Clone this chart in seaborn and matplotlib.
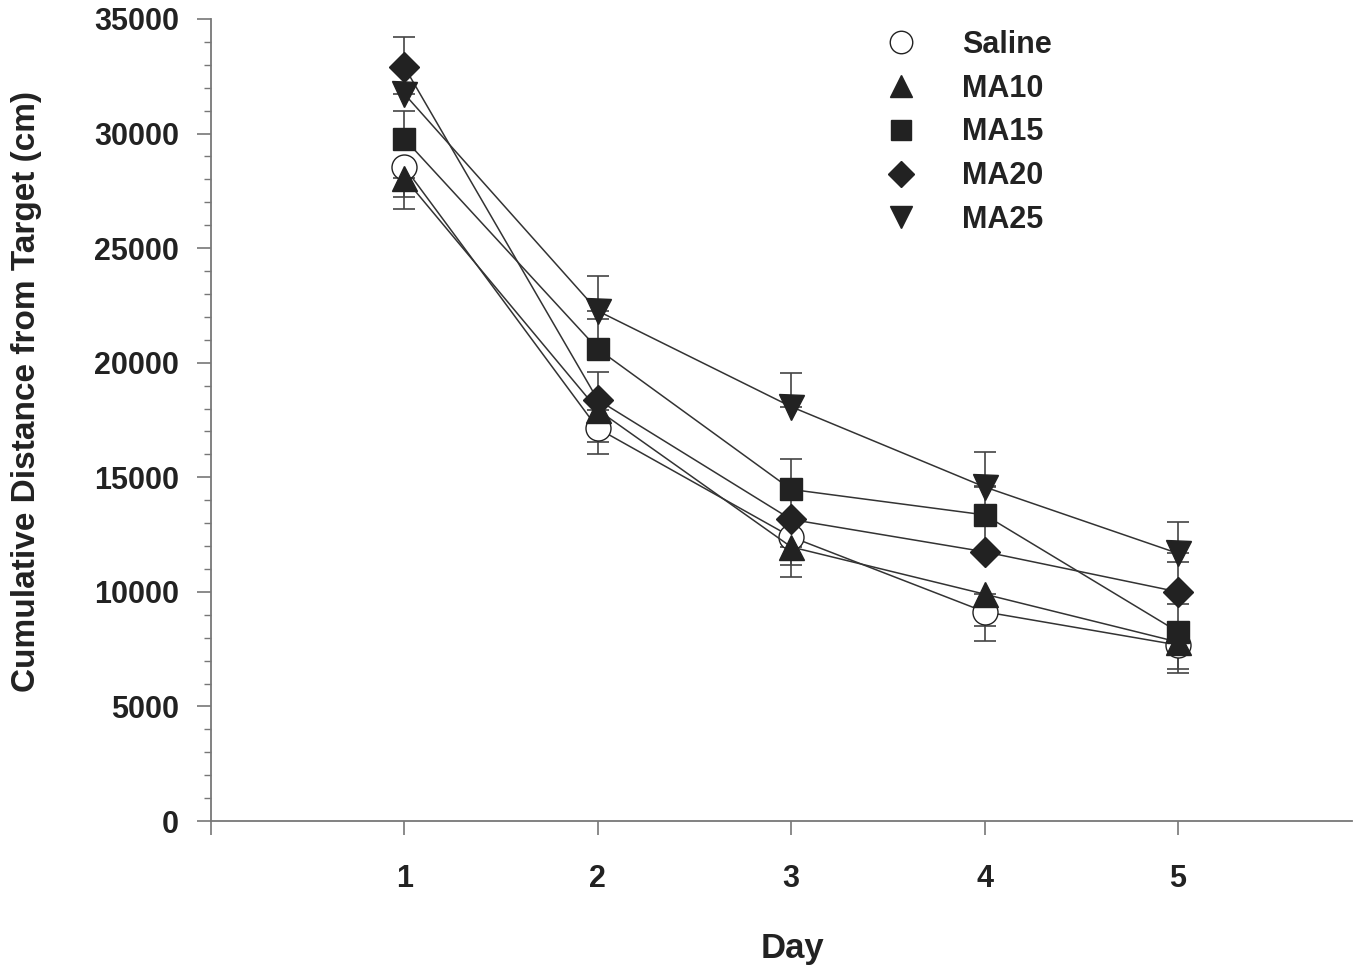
import matplotlib
matplotlib.use("Agg")
import matplotlib.pyplot as plt
import seaborn as sns
from matplotlib.lines import Line2D
from matplotlib.ticker import MultipleLocator

# --------------------------
# data
# --------------------------
days = [1, 2, 3, 4, 5]
groups = ["Saline", "MA10", "MA15", "MA20", "MA25"]

saline = [28540, 17130, 12400, 9130, 7680]
ma10 = [28060, 17940, 11960, 9900, 7810]
ma15 = [29770, 20600, 14470, 13360, 8260]
ma20 = [32910, 18380, 13160, 11750, 10000]
ma25 = [31730, 22260, 18080, 14580, 11680]

# one-sided SEM bars: Saline/MA10 point down, the others up
saline_sem = [1290, 1120, 1230, 1280, 1240]
ma10_sem = [1370, 1390, 1330, 1380, 1190]
ma15_sem = [1200, 1300, 1310, 1250, 1200]
ma20_sem = [1320, 1230, 1250, 1300, 1310]
ma25_sem = [1300, 1530, 1480, 1530, 1380]

yticks = [0, 5000, 10000, 15000, 20000, 25000, 30000, 35000]
xticks = [0, 1, 2, 3, 4, 5]
xticklabels = ["", "1", "2", "3", "4", "5"]

# --------------------------
# styling
# --------------------------
sns.set_theme(style="ticks")
plt.rcParams["font.family"] = ["Liberation Sans", "DejaVu Sans"]
plt.rcParams["font.weight"] = "bold"
plt.rcParams["axes.labelweight"] = "bold"

ink = "#222222"
axis_col = "#777777"

series = {
    "Saline": (saline, saline_sem, "o", 18, "white", "down"),
    "MA10": (ma10, ma10_sem, "^", 18, ink, "down"),
    "MA15": (ma15, ma15_sem, "s", 16.5, ink, "up"),
    "MA20": (ma20, ma20_sem, "D", 14.8, ink, "up"),
    "MA25": (ma25, ma25_sem, "v", 18, ink, "up"),
}

fig = plt.figure(figsize=(13.6, 9.72), dpi=100)
ax = fig.add_axes([211 / 1360, 1 - 821 / 972, (1352 - 211) / 1360, (821 - 19) / 972])

handles = []
for name in groups:
    vals, sem, mk, ms, fc, side = series[name]
    zero = [0] * len(sem)
    yerr = [sem, zero] if side == "down" else [zero, sem]
    ax.errorbar(days, vals, yerr=yerr, fmt="none", ecolor="#444444",
                elinewidth=1.2, capsize=8, capthick=1.2, zorder=2)
    sns.lineplot(x=days, y=vals, ax=ax, color="#333333", linewidth=1.1,
                 marker=mk, markersize=ms, markerfacecolor=fc,
                 markeredgecolor=ink, markeredgewidth=1.0, zorder=3,
                 legend=False)
    handles.append(Line2D([], [], linestyle="none", marker=mk, markersize=ms * 0.9,
                          markerfacecolor=fc, markeredgecolor=ink, markeredgewidth=1.0))

ax.set_xlim(0, 5.9)
ax.set_ylim(0, 35000)
ax.set_xticks(xticks)
ax.set_xticklabels(xticklabels)
ax.set_yticks(yticks)
ax.yaxis.set_minor_locator(MultipleLocator(1000))

sns.despine(ax=ax)
for sp in ["left", "bottom"]:
    ax.spines[sp].set_color(axis_col)
    ax.spines[sp].set_linewidth(1.3)

ax.tick_params(axis="y", which="major", direction="out", length=10, width=1.2,
               color=axis_col, pad=13, labelsize=22, labelcolor=ink)
ax.tick_params(axis="y", which="minor", direction="out", length=5, width=1.0,
               color=axis_col)
ax.tick_params(axis="x", which="major", direction="out", length=10, width=1.2,
               color=axis_col, pad=21, labelsize=22, labelcolor=ink)

ax.set_xlabel("Day", fontsize=25, color=ink, fontweight="bold")
ax.set_ylabel("Cumulative Distance from Target (cm)", fontsize=24, color=ink,
              fontweight="bold")
ax.xaxis.set_label_coords(0.51, -0.138)
ax.yaxis.set_label_coords(-0.148, 0.535)

leg = ax.legend(handles, groups, loc="upper left",
                bbox_to_anchor=(886 / 1360, 1 - 30 / 972),
                bbox_transform=fig.transFigure, frameon=False,
                fontsize=22, handlelength=1.0, handletextpad=1.5,
                borderpad=0, borderaxespad=0, labelspacing=0.45)
for t in leg.get_texts():
    t.set_color(ink)
    t.set_fontweight("bold")

fig.savefig("out.png", dpi=100)
